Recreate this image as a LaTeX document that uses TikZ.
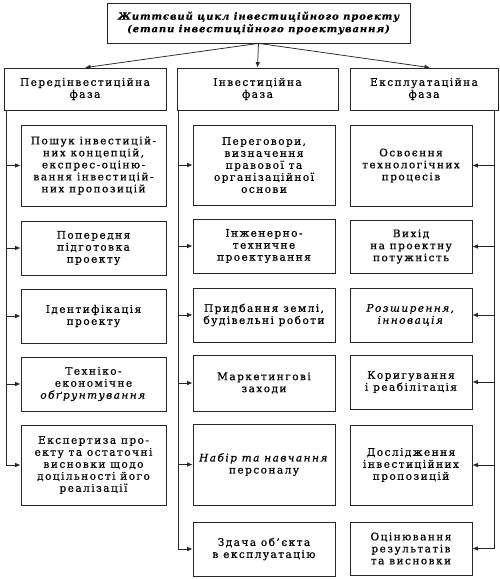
\documentclass[tikz,border=0pt]{standalone}
\usepackage{fontspec}
\setmainfont{DejaVu Serif}[LetterSpace=14, FakeBold=0.7]
\newfontfamily\titlefont{DejaVu Serif}[LetterSpace=9, FakeBold=0.3]
\usetikzlibrary{arrows.meta}
\begin{document}
\begin{tikzpicture}[x=1pt,y=-1pt,
  box/.style={draw=black!85, line width=0.75pt, align=center, inner sep=1pt,
    font=\fontsize{10.5}{12}\selectfont},
  arr/.style={draw=black!85, line width=0.75pt, -{Latex[length=5.5pt,width=4.5pt]}},
  ln/.style={draw=black!85, line width=0.75pt}]
\useasboundingbox (0,0) rectangle (500,579);
% top
\node[box, minimum width=303pt, minimum height=40pt, font=\titlefont\fontsize{10}{12.5}\selectfont\bfseries\itshape] (T) at (258.5,23)
  {Життєвий цикл інвестиційного проекту\\(етапи інвестиційного проектування)};
% phases
\node[box, minimum width=162pt, minimum height=42pt] (P1) at (85,89) {Передінвестиційна\\фаза};
\node[box, minimum width=161pt, minimum height=42pt] (P2) at (257.5,89) {Інвестиційна\\фаза};
\node[box, minimum width=148pt, minimum height=42pt] (P3) at (424,89) {Експлуатаційна\\фаза};
\draw[arr] (T.south) -- (P1.north);
\draw[arr] (T.south) -- (P2.north);
\draw[arr] (T.south) -- ([xshift=6pt]P3.north);
% left column
\begin{scope}[every node/.style={box, minimum width=145pt}]
\node[minimum height=81pt] (L1) at (93.5,165.5) {Пошук інвестицій-\\них концепцій,\\експрес-оціню-\\вання інвестицій-\\них пропозицій};
\node[minimum height=54pt] (L2) at (93.5,248) {Попередня\\підготовка\\проекту};
\node[minimum height=54pt] (L3) at (93.5,316) {Ідентифікація\\проекту};
\node[minimum height=54pt] (L4) at (93.5,384) {Техніко-\\економічне\\\textit{обґрунтування}};
\node[minimum height=80pt] (L5) at (93.5,465) {Експертиза про-\\екту та остаточні\\висновки щодо\\доцільності його\\реалізації};
\end{scope}
% middle column
\begin{scope}[every node/.style={box, minimum width=142pt}]
\node[minimum height=80pt] (M1) at (264,165) {Переговори,\\визначення\\правової та\\організаційної\\основи};
\node[minimum height=54pt] (M2) at (264,246) {Інженерно-\\техничне\\проектування};
\node[minimum height=54pt] (M3) at (264,315) {Придбання землі,\\будівельні роботи};
\node[minimum height=56pt] (M4) at (264,383) {Маркетингові\\заходи};
\node[minimum height=81pt] (M5) at (264,464.5) {\textit{Набір та навчання}\\персоналу};
\node[minimum height=54pt] (M6) at (264,549) {Здача об’єкта\\в експлуатацію};
\end{scope}
% right column
\begin{scope}[every node/.style={box, minimum width=122pt}]
\node[minimum height=81pt] (R1) at (411,165.5) {Освоєння\\технологічних\\процесів};
\node[minimum height=53pt] (R2) at (411,246.5) {Вихід\\на проектну\\потужність};
\node[minimum height=54pt] (R3) at (411,315) {\textit{Розширення,}\\\textit{інновація}};
\node[minimum height=54pt] (R4) at (411,382) {Коригування\\і реабілітація};
\node[minimum height=80pt] (R5) at (411,465) {Дослідження\\інвестиційних\\пропозицій};
\node[minimum height=53pt] (R6) at (411,548.5) {Оцінювання\\результатів\\та висновки};
\end{scope}
% spines
\coordinate (lv) at (6,110);
\coordinate (mv) at (178,110);
\coordinate (rv) at (494,110);
\draw[ln] (lv) -- (lv |- L5.west);
\draw[ln] (mv) -- (mv |- M6.west);
\draw[ln] (rv) -- (rv |- R6.east);
\foreach \b in {L1,L2,L3,L4,L5} \draw[arr] (lv |- \b.west) -- (\b.west);
\foreach \b in {M1,M2,M3,M4,M5,M6} \draw[arr] (mv |- \b.west) -- (\b.west);
\foreach \b in {R1,R2,R3,R4,R5,R6} \draw[arr] (rv |- \b.east) -- (\b.east);
\end{tikzpicture}
\end{document}
